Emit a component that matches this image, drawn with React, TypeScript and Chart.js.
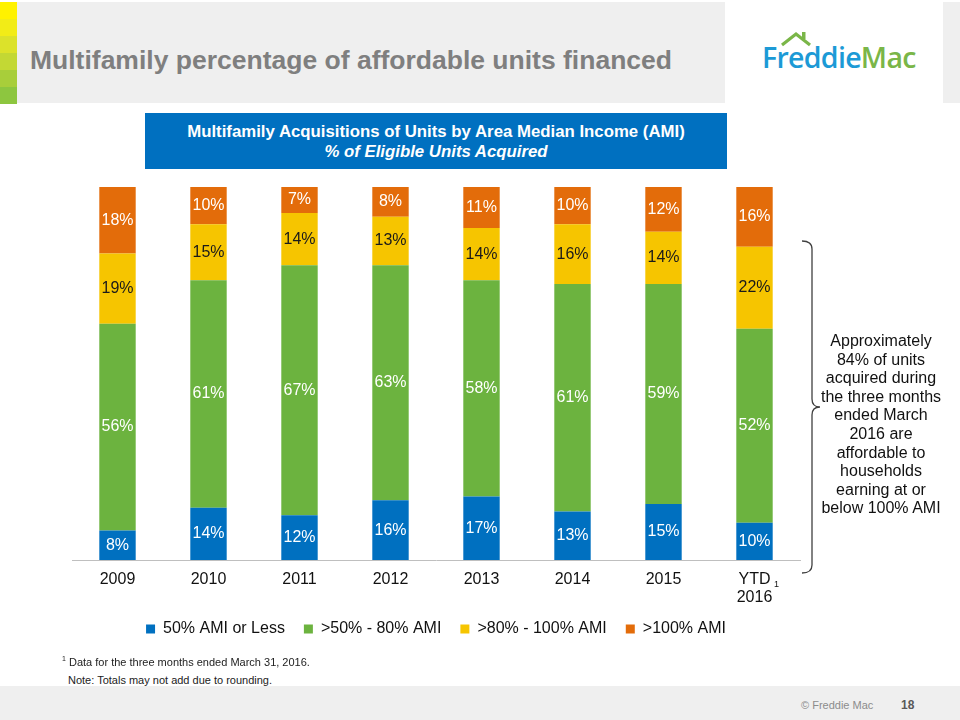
import React, { useEffect, useRef } from 'react';
import { Chart, registerables } from 'chart.js';

Chart.register(...registerables);

const categories: (string | string[])[] = ['2009', '2010', '2011', '2012', '2013', '2014', '2015', ['YTD', '2016']];
const seriesNames = ['50% AMI or Less', '>50% - 80% AMI', '>80% - 100% AMI', '>100% AMI'];
const amiUpTo50 = [8, 14, 12, 16, 17, 13, 15, 10];
const ami50to80 = [56, 61, 67, 63, 58, 61, 59, 52];
const ami80to100 = [19, 15, 14, 13, 14, 16, 14, 22];
const amiAbove100 = [18, 10, 7, 8, 11, 10, 12, 16];

const seriesColors = ['#0070C0', '#6CB33F', '#F6C500', '#E36C0A'];
const labelColors = ['#FFFFFF', '#FFFFFF', '#1A1A1A', '#FFFFFF'];

const FONT = '"Liberation Sans", Arial, Helvetica, sans-serif';

const rawSeries = [amiUpTo50, ami50to80, ami80to100, amiAbove100];

const barLabelPlugin = {
  id: 'barLabels',
  afterDatasetsDraw(chart: any) {
    const ctx = chart.ctx;
    chart.data.datasets.forEach((_ds: any, i: number) => {
      const meta = chart.getDatasetMeta(i);
      meta.data.forEach((bar: any, j: number) => {
        const { x, y, base } = bar.getProps(['x', 'y', 'base'], true);
        ctx.save();
        ctx.fillStyle = labelColors[i];
        ctx.font = `16px ${FONT}`;
        ctx.textAlign = 'center';
        ctx.textBaseline = 'middle';
        ctx.fillText(`${rawSeries[i][j]}%`, x, (y + base) / 2);
        ctx.restore();
      });
    });
  },
};

// pulls the legend a little closer to the axis labels
const legendShiftPlugin = {
  id: 'legendShift',
  afterLayout(chart: any) {
    const lg = chart.legend;
    if (lg) {
      lg.top -= 8;
      lg.bottom -= 8;
    }
  },
};

function BarChart() {
  const ref = useRef<HTMLCanvasElement | null>(null);
  useEffect(() => {
    if (!ref.current) return;
    const totals = categories.map((_c, j) => rawSeries.reduce((s, arr) => s + arr[j], 0));
    const chart = new Chart(ref.current, {
      type: 'bar',
      data: {
        labels: categories as any,
        datasets: rawSeries.map((arr, i) => ({
          label: seriesNames[i],
          data: arr.map((v, j) => (v / totals[j]) * 100),
          backgroundColor: seriesColors[i],
          borderWidth: 0,
          barPercentage: 0.4,
          categoryPercentage: 1,
        })),
      },
      options: {
        animation: false,
        responsive: true,
        maintainAspectRatio: false,
        layout: { padding: { left: 32, right: 40, top: 10, bottom: 2 } },
        scales: {
          x: {
            stacked: true,
            grid: { display: false, drawTicks: false },
            border: { color: '#BFBFBF', width: 1 },
            ticks: {
              color: '#111111',
              font: { family: FONT, size: 16, lineHeight: 1.15 },
              maxRotation: 0,
              autoSkip: false,
              padding: 10,
            },
            afterFit: (scale: any) => {
              scale.height = 50;
            },
          },
          y: {
            stacked: true,
            display: false,
            min: 0,
            max: 100,
          },
        },
        plugins: {
          legend: {
            position: 'bottom',
            labels: {
              boxWidth: 9,
              boxHeight: 9,
              padding: 19,
              color: '#111111',
              font: { family: FONT, size: 16 },
            },
          },
          tooltip: { enabled: false },
        },
      },
      plugins: [barLabelPlugin, legendShiftPlugin],
    });
    return () => chart.destroy();
  }, []);
  return <canvas ref={ref} />;
}

const abs = (l: number, t: number, w?: number, h?: number): React.CSSProperties => ({
  position: 'absolute',
  left: l,
  top: t,
  ...(w !== undefined ? { width: w } : {}),
  ...(h !== undefined ? { height: h } : {}),
});

const stripeColors = ['#FFF200', '#F2EC17', '#DCE22A', '#C3D834', '#A8CE3A', '#8DC63F'];

const noteLines = [
  'Approximately',
  '84% of units',
  'acquired during',
  'the three months',
  'ended March',
  '2016 are',
  'affordable to',
  'households',
  'earning at or',
  'below 100% AMI',
];

export default function App() {
  useEffect(() => {
    document.body.style.margin = '0';
  }, []);
  return (
    <div style={{ position: 'absolute', left: 0, top: 0, width: 960, height: 720, background: '#FFFFFF', overflow: 'hidden', fontFamily: FONT }}>
      {/* header band */}
      <div style={{ ...abs(0, 2, 725, 101), background: '#EFEFEF' }} />
      <div style={{ ...abs(943, 2, 17, 101), background: '#EFEFEF' }} />
      {stripeColors.map((c, i) => (
        <div key={i} style={{ ...abs(0, 2 + i * 17, 17, 17), background: c }} />
      ))}
      <div style={{ ...abs(30, 42), fontSize: 26.5, fontWeight: 'bold', color: '#7F7F7F', whiteSpace: 'nowrap', lineHeight: '36px' }}>
        Multifamily percentage of affordable units financed
      </div>
      {/* logo */}
      <svg style={abs(779, 30, 34, 18)} width={34} height={18}>
        <polyline points="3,15 17,4 31,15" fill="none" stroke="#7AB648" strokeWidth={3.2} strokeLinejoin="miter" />
        <rect x={23} y={2} width={3.5} height={7} fill="#7AB648" />
      </svg>
      <div style={{ ...abs(762, 40), fontFamily: '"Open Sans", sans-serif', fontWeight: 600, fontSize: 28.5, letterSpacing: -0.7, lineHeight: '34px', whiteSpace: 'nowrap' }}>
        <span style={{ color: '#1C9AD6' }}>Freddie</span>
        <span style={{ color: '#7AB648' }}>Mac</span>
      </div>
      {/* blue title box */}
      <div style={{ ...abs(145, 113, 582, 56), background: '#0070C0', color: '#FFFFFF', textAlign: 'center', fontWeight: 'bold', fontSize: 16.8, lineHeight: '19.5px', paddingTop: 9, boxSizing: 'border-box' }}>
        <div>Multifamily Acquisitions of Units by Area Median Income (AMI)</div>
        <div style={{ fontStyle: 'italic' }}>% of Eligible Units Acquired</div>
      </div>
      {/* chart */}
      <div style={abs(40, 177, 800, 480)}>
        <BarChart />
      </div>
      <div style={{ ...abs(774, 579), fontSize: 9, color: '#111' }}>1</div>
      {/* bracket */}
      <svg style={abs(795, 235, 40, 345)} width={40} height={345}>
        <path
          d="M7,6 Q17,6 17,14 L17,164 Q17,172 25,172 Q17,172 17,180 L17,330 Q17,338 7,338"
          fill="none"
          stroke="#404040"
          strokeWidth={1.3}
        />
      </svg>
      <div style={{ ...abs(815, 332, 132), textAlign: 'center', fontSize: 16, lineHeight: '18.6px', color: '#111111' }}>
        {noteLines.map((l, i) => (
          <div key={i} style={{ whiteSpace: 'nowrap' }}>{l}</div>
        ))}
      </div>
      {/* footnotes */}
      <div style={{ ...abs(62, 655), fontSize: 11, color: '#222', whiteSpace: 'nowrap' }}>
        <sup style={{ fontSize: 7 }}>1</sup> Data for the three months ended March 31, 2016.
      </div>
      <div style={{ ...abs(68, 674), fontSize: 11, color: '#222', whiteSpace: 'nowrap' }}>Note: Totals may not add due to rounding.</div>
      {/* footer */}
      <div style={{ ...abs(0, 686, 960, 34), background: '#EFEFEF' }} />
      <div style={{ ...abs(801, 699), fontSize: 11, color: '#8C8C8C', whiteSpace: 'nowrap' }}>© Freddie Mac</div>
      <div style={{ ...abs(901, 698), fontSize: 12, fontWeight: 'bold', color: '#595959' }}>18</div>
    </div>
  );
}
